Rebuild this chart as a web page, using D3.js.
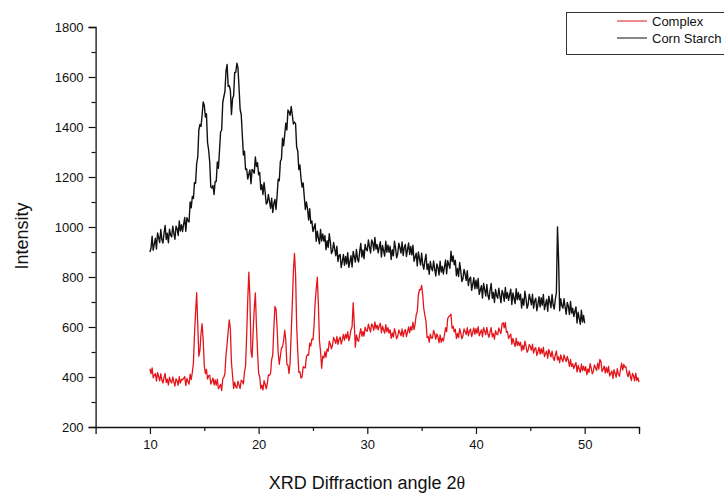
<!DOCTYPE html>
<html>
<head>
<meta charset="utf-8">
<script src="https://cdn.jsdelivr.net/npm/d3@7"></script>
<style>
  html, body { margin: 0; padding: 0; background: #fff; }
  svg { display: block; }
  text { font-family: "Liberation Sans", Arial, sans-serif; fill: #111; }
</style>
</head>
<body>
<svg id="chart" width="724" height="493"></svg>
<script>
// XRD patterns, intensity sampled every 0.1 degree of 2-theta
const angleStep = 0.1;
const cornStarchStart = 10;
const complexStart = 10;

const cornStarch = [
  900, 916, 963, 907, 931, 955, 912, 976, 958, 938,
  990, 950, 936, 976, 1006, 950, 975, 937, 991, 968,
  960, 1003, 975, 951, 1003, 993, 966, 1024, 984, 1009,
  982, 1011, 1038, 983, 1037, 1025, 1020, 1100, 1077, 1122,
  1114, 1178, 1175, 1254, 1280, 1388, 1410, 1402, 1448, 1500,
  1487, 1440, 1453, 1338, 1308, 1260, 1160, 1156, 1166, 1130,
  1182, 1182, 1260, 1235, 1305, 1380, 1388, 1498, 1521, 1542,
  1625, 1650, 1562, 1565, 1548, 1450, 1514, 1525, 1618, 1619,
  1655, 1636, 1556, 1470, 1450, 1368, 1288, 1303, 1230, 1232,
  1192, 1211, 1228, 1173, 1230, 1225, 1215, 1280, 1242, 1257,
  1209, 1218, 1150, 1169, 1130, 1178, 1140, 1092, 1098, 1130,
  1102, 1075, 1115, 1058, 1093, 1110, 1070, 1126, 1191, 1185,
  1262, 1272, 1355, 1325, 1370, 1415, 1388, 1468, 1461, 1447,
  1482, 1448, 1412, 1420, 1413, 1320, 1304, 1230, 1248, 1194,
  1160, 1176, 1121, 1070, 1100, 1073, 1028, 1073, 1015, 1024,
  982, 998, 1013, 943, 983, 955, 933, 990, 944, 972,
  944, 965, 909, 945, 918, 973, 940, 894, 903, 938,
  912, 885, 923, 862, 886, 890, 838, 862, 890, 847,
  882, 852, 897, 839, 861, 885, 840, 902, 882, 860,
  910, 872, 860, 902, 934, 880, 908, 873, 930, 910,
  905, 948, 920, 896, 948, 938, 906, 958, 912, 930,
  897, 920, 941, 880, 926, 905, 884, 943, 899, 928,
  899, 923, 870, 909, 885, 943, 915, 877, 893, 935,
  917, 896, 940, 886, 917, 930, 882, 910, 936, 890,
  922, 888, 927, 863, 879, 895, 844, 900, 874, 848,
  895, 850, 831, 866, 891, 830, 852, 811, 862, 836,
  825, 864, 832, 804, 852, 838, 808, 863, 820, 842,
  812, 841, 868, 813, 865, 850, 835, 903, 862, 884,
  849, 866, 805, 834, 802, 858, 825, 782, 793, 830,
  812, 786, 825, 766, 792, 800, 747, 770, 797, 753,
  787, 754, 794, 731, 748, 765, 716, 774, 750, 724,
  770, 727, 710, 747, 774, 715, 738, 698, 750, 725,
  715, 755, 724, 697, 746, 733, 703, 758, 715, 737,
  707, 730, 751, 690, 736, 715, 694, 753, 709, 738,
  709, 731, 676, 713, 687, 743, 714, 675, 690, 731,
  712, 689, 731, 675, 704, 715, 665, 691, 721, 680,
  717, 687, 730, 670, 690, 710, 663, 723, 701, 677,
  730, 688, 672, 710, 738, 1000, 870, 665, 713, 686,
  675, 713, 680, 651, 698, 683, 650, 702, 656, 675,
  642, 662, 680, 616, 659, 635, 611, 667, 620, 646,
  615
];

const complex = [
  433, 413, 436, 397, 407, 414, 384, 417, 402, 385,
  413, 387, 376, 398, 414, 378, 392, 368, 399, 383,
  376, 400, 381, 364, 393, 385, 367, 401, 376, 390,
  389, 394, 402, 366, 394, 382, 371, 411, 390, 418,
  456, 571, 659, 737, 608, 483, 506, 573, 613, 548,
  447, 414, 430, 392, 405, 407, 372, 383, 396, 369,
  388, 367, 391, 353, 362, 371, 346, 392, 399, 414,
  488, 533, 583, 628, 593, 458, 407, 354, 379, 361,
  356, 383, 368, 354, 387, 383, 372, 420, 444, 567,
  709, 819, 717, 501, 479, 587, 675, 736, 605, 503,
  416, 401, 354, 367, 348, 385, 371, 353, 373, 408,
  407, 414, 470, 487, 595, 682, 672, 598, 496, 451,
  483, 515, 521, 545, 587, 549, 451, 447, 414, 459,
  578, 693, 823, 894, 813, 608, 502, 419, 421, 396,
  401, 441, 438, 437, 482, 490, 487, 535, 524, 552,
  549, 604, 697, 751, 799, 687, 545, 501, 435, 483,
  476, 501, 479, 512, 503, 543, 531, 513, 528, 558,
  547, 534, 562, 531, 551, 560, 532, 550, 570, 547,
  571, 555, 581, 545, 562, 589, 601, 697, 614, 519,
  568, 548, 543, 571, 593, 563, 582, 564, 599, 586,
  583, 611, 595, 580, 612, 605, 587, 620, 594, 607,
  589, 604, 615, 577, 603, 589, 575, 609, 581, 597,
  576, 589, 555, 576, 560, 593, 576, 553, 563, 588,
  577, 565, 592, 561, 581, 590, 562, 580, 600, 577,
  601, 587, 619, 590, 612, 649, 661, 727, 749, 749,
  766, 728, 673, 646, 623, 558, 562, 539, 571, 556,
  556, 586, 573, 552, 572, 560, 537, 568, 539, 555,
  544, 569, 597, 581, 634, 642, 645, 651, 595, 603,
  581, 591, 554, 574, 558, 593, 576, 553, 565, 592,
  582, 570, 597, 565, 584, 592, 562, 578, 596, 571,
  593, 575, 601, 565, 577, 589, 561, 597, 584, 569,
  598, 571, 559, 581, 597, 561, 574, 551, 585, 572,
  569, 596, 583, 574, 612, 617, 597, 618, 579, 582,
  554, 564, 572, 531, 554, 537, 522, 555, 526, 541,
  526, 539, 505, 526, 510, 543, 524, 499, 507, 530,
  522, 507, 531, 496, 512, 517, 486, 501, 518, 492,
  513, 494, 519, 482, 493, 504, 475, 510, 496, 480,
  503, 477, 466, 488, 504, 468, 481, 457, 488, 472,
  461, 488, 473, 462, 482, 467, 442, 470, 442, 453,
  434, 447, 458, 420, 446, 432, 418, 452, 425, 443,
  426, 441, 409, 432, 418, 453, 436, 413, 423, 448,
  437, 426, 455, 432, 470, 462, 422, 430, 444, 416,
  438, 418, 442, 404, 414, 424, 394, 429, 415, 399,
  433, 411, 403, 431, 455, 428, 450, 439, 441, 414,
  401, 424, 404, 386, 414, 405, 385, 415, 386, 397,
  380
];

const xMajorTicks = [10, 20, 30, 40, 50];
const xMinorTicks = [15, 25, 35, 45, 55];
const yMajorTicks = [200, 400, 600, 800, 1000, 1200, 1400, 1600, 1800];
const yMinorTicks = [300, 500, 700, 900, 1100, 1300, 1500, 1700];

const seriesNames = ["Complex", "Corn Starch"];
const seriesColors = ["#e3151b", "#111111"];

const svg = d3.select("#chart");

const x = d3.scaleLinear().domain([5, 55]).range([95.6, 639]);
const y = d3.scaleLinear().domain([200, 1800]).range([427, 27]);

function toPoints(values, start) {
  return values.map((v, i) => [+(start + i * angleStep).toFixed(1), v]);
}

const line = d3.line().x(d => x(d[0])).y(d => y(d[1]));

// traces
svg.append("path")
  .datum(toPoints(complex, complexStart))
  .attr("d", line)
  .attr("fill", "none")
  .attr("stroke", seriesColors[0])
  .attr("stroke-width", 1.3)
  .attr("stroke-linejoin", "round");

svg.append("path")
  .datum(toPoints(cornStarch, cornStarchStart))
  .attr("d", line)
  .attr("fill", "none")
  .attr("stroke", seriesColors[1])
  .attr("stroke-width", 1.4)
  .attr("stroke-linejoin", "round");

// axes
const axisColor = "#111";
svg.append("g").attr("transform", "translate(0,427)")
  .call(d3.axisBottom(x).tickValues(xMajorTicks).tickSize(7).tickPadding(6).tickFormat(d3.format("d")));
svg.append("g").attr("transform", "translate(0,427)")
  .call(d3.axisBottom(x).tickValues(xMinorTicks).tickSize(4).tickFormat(""))
  .select(".domain").remove();

svg.append("g").attr("transform", "translate(95.6,0)")
  .call(d3.axisLeft(y).tickValues(yMajorTicks).tickSize(7).tickPadding(5).tickFormat(d3.format("d")));
svg.append("g").attr("transform", "translate(95.6,0)")
  .call(d3.axisLeft(y).tickValues(yMinorTicks).tickSize(4).tickFormat(""))
  .select(".domain").remove();

svg.selectAll(".domain").attr("stroke", axisColor).attr("stroke-width", 1.3);
svg.selectAll(".tick line").attr("stroke", axisColor).attr("stroke-width", 1.2);
svg.selectAll(".tick text")
  .attr("font-size", 13)
  .attr("font-family", "Liberation Sans, Arial, sans-serif")
  .attr("fill", "#111");

// axis titles
const xTitle = svg.append("text")
  .attr("x", 367).attr("y", 489)
  .attr("text-anchor", "middle")
  .attr("font-size", 18);
xTitle.append("tspan").text("XRD Diffraction angle 2");
xTitle.append("tspan").attr("font-family", "Liberation Serif, Times New Roman, serif").text("θ");

svg.append("text")
  .attr("transform", "translate(28,236) rotate(-90)")
  .attr("text-anchor", "middle")
  .attr("font-size", 18)
  .text("Intensity");

// legend
const legend = svg.append("g");
legend.append("rect")
  .attr("x", 566.5).attr("y", 12.5)
  .attr("width", 170).attr("height", 42)
  .attr("fill", "#fff")
  .attr("stroke", "#333")
  .attr("stroke-width", 1);
seriesNames.forEach((name, i) => {
  const ly = 21 + i * 17;
  legend.append("line")
    .attr("x1", 617).attr("x2", 647)
    .attr("y1", ly).attr("y2", ly)
    .attr("stroke", seriesColors[i])
    .attr("stroke-width", 1);
  legend.append("text")
    .attr("x", 652).attr("y", ly + 4.5)
    .attr("font-size", 13)
    .text(name);
});
</script>
</body>
</html>
